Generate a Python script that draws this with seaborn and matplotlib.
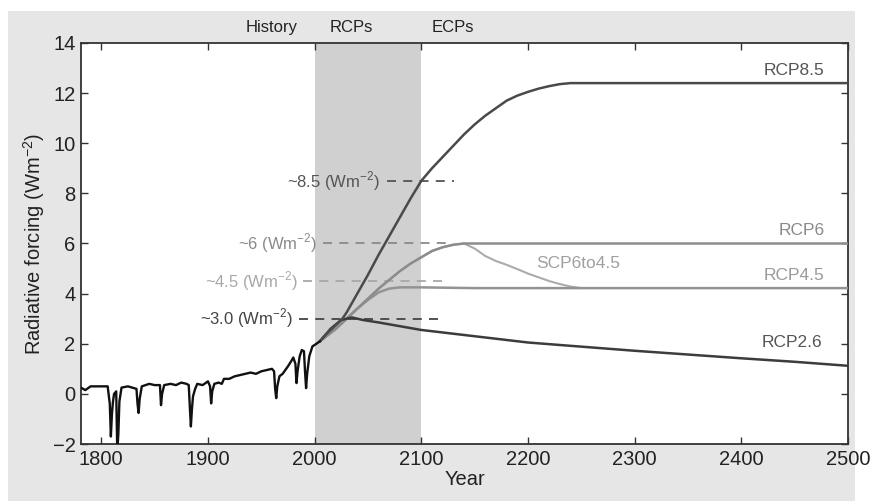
import matplotlib
matplotlib.use("Agg")
import matplotlib.pyplot as plt
from matplotlib.patches import Rectangle
import numpy as np
import pandas as pd
import seaborn as sns

# ---------------- data ----------------
hist_years = [1781, 1785, 1790, 1800, 1806, 1808, 1809, 1810, 1811, 1812, 1814, 1815, 1816,
              1817, 1819, 1825, 1833, 1834, 1835, 1836, 1838, 1845, 1850, 1855, 1856, 1857,
              1859, 1865, 1870, 1875, 1880, 1882, 1883, 1884, 1885, 1886, 1888, 1890, 1895,
              1900, 1902, 1903, 1904, 1906, 1910, 1913, 1915, 1920, 1925, 1930, 1935, 1940,
              1945, 1950, 1955, 1960, 1962, 1963, 1964, 1965, 1967, 1970, 1975, 1978, 1980,
              1982, 1983, 1984, 1986, 1988, 1990, 1991, 1992, 1993, 1995, 1998, 2000, 2005]
hist_vals = [0.25, 0.15, 0.3, 0.3, 0.3, -0.4, -1.7, -0.8, -0.3, 0.0, 0.1, -2.3, -1.6,
             -0.3, 0.25, 0.3, 0.2, -0.4, -0.76, -0.2, 0.3, 0.4, 0.35, 0.35, -0.45, 0.0,
             0.35, 0.4, 0.35, 0.45, 0.4, 0.35, -0.5, -1.3, -0.6, -0.1, 0.2, 0.4, 0.35,
             0.5, 0.3, -0.38, 0.1, 0.4, 0.45, 0.4, 0.6, 0.6, 0.7, 0.75, 0.8, 0.85,
             0.8, 0.9, 0.95, 1.0, 0.9, 0.2, -0.17, 0.3, 0.7, 0.8, 1.1, 1.3, 1.45,
             1.2, 0.43, 0.9, 1.5, 1.75, 1.7, 0.9, 0.23, 0.8, 1.5, 1.9, 1.95, 2.1]

rcp85_years = [2005, 2010, 2020, 2026, 2030, 2040, 2050, 2060, 2066, 2070, 2080, 2090, 2100,
               2110, 2120, 2130, 2140, 2150, 2160, 2170, 2180, 2190, 2200, 2210, 2220, 2230,
               2240, 2250, 2500]
rcp85_vals = [2.1, 2.35, 2.75, 3.0, 3.25, 4.0, 4.75, 5.55, 6.0, 6.3, 7.05, 7.8, 8.5,
              9.0, 9.45, 9.9, 10.35, 10.75, 11.1, 11.4, 11.7, 11.9, 12.05, 12.18, 12.28, 12.36,
              12.4, 12.4, 12.4]

rcp6_years = [2005, 2020, 2030, 2040, 2050, 2060, 2070, 2080, 2090, 2100, 2110, 2120, 2130,
              2140, 2150, 2500]
rcp6_vals = [2.1, 2.6, 3.0, 3.4, 3.8, 4.2, 4.55, 4.9, 5.2, 5.45, 5.7, 5.85, 5.95,
             6.0, 6.0, 6.0]

scp_years = [2005, 2020, 2030, 2040, 2050, 2060, 2070, 2080, 2090, 2100, 2110, 2120, 2130,
             2140, 2150, 2160, 2170, 2180, 2190, 2200, 2210, 2220, 2230, 2240, 2250]
scp_vals = [2.1, 2.6, 3.0, 3.4, 3.8, 4.2, 4.55, 4.9, 5.2, 5.45, 5.7, 5.85, 5.95,
            6.0, 5.8, 5.5, 5.3, 5.15, 4.98, 4.8, 4.65, 4.5, 4.38, 4.28, 4.22]

rcp45_years = [2005, 2020, 2030, 2040, 2050, 2060, 2070, 2080, 2100, 2150, 2500]
rcp45_vals = [2.1, 2.6, 3.0, 3.4, 3.75, 4.05, 4.2, 4.25, 4.25, 4.22, 4.22]

rcp26_years = [2005, 2015, 2025, 2035, 2045, 2060, 2080, 2100, 2150, 2200, 2230, 2300,
               2350, 2400, 2450, 2500]
rcp26_vals = [2.1, 2.6, 2.95, 3.05, 2.95, 2.85, 2.7, 2.55, 2.3, 2.05, 1.95, 1.72,
              1.57, 1.42, 1.28, 1.12]

series_names = ["History", "RCP8.5", "RCP6", "SCP6to4.5", "RCP4.5", "RCP2.6"]
level_values = [8.5, 6.0, 4.5, 3.0]
level_texts = ["~8.5 (Wm$^{-2}$)", "~6 (Wm$^{-2}$)", "~4.5 (Wm$^{-2}$)", "~3.0 (Wm$^{-2}$)"]
period_labels = ["History", "RCPs", "ECPs"]
x_ticks = [1800, 1900, 2000, 2100, 2200, 2300, 2400, 2500]
y_ticks = [-2, 0, 2, 4, 6, 8, 10, 12, 14]

# ---------------- build table ----------------
parts = []
for name, yrs, vals in zip(series_names,
                           [hist_years, rcp85_years, rcp6_years, scp_years, rcp45_years, rcp26_years],
                           [hist_vals, rcp85_vals, rcp6_vals, scp_vals, rcp45_vals, rcp26_vals]):
    parts.append(pd.DataFrame({"Year": yrs, "Forcing": vals, "series": name}))
df = pd.concat(parts, ignore_index=True)

# ---------------- styling ----------------
sns.set_theme(style="ticks")
plt.rcParams['font.family'] = ['Liberation Sans', 'DejaVu Sans']
plt.rcParams['mathtext.fontset'] = 'custom'
plt.rcParams['mathtext.rm'] = 'Liberation Sans'

line_colors = {"History": "#111111", "RCP8.5": "#4a4a4a", "RCP6": "#8c8c8c",
               "SCP6to4.5": "#ababab", "RCP4.5": "#939393", "RCP2.6": "#3c3c3c"}
line_widths = {"History": 1.7, "RCP8.5": 1.8, "RCP6": 1.8, "SCP6to4.5": 1.5,
               "RCP4.5": 1.8, "RCP2.6": 1.8}
draw_order = ["SCP6to4.5", "RCP4.5", "RCP6", "RCP2.6", "RCP8.5", "History"]

fig = plt.figure(figsize=(8.72, 5.01), dpi=100, facecolor="white")
fig.patches.append(Rectangle((8 / 872, 0), 847 / 872, 490 / 501, transform=fig.transFigure,
                             facecolor="#e6e6e6", edgecolor="none", zorder=-10))
ax = fig.add_axes([81 / 872, 57 / 501, 767 / 872, 401 / 501])
ax.set_zorder(5)
ax.set_facecolor("white")
ax.axvspan(2000, 2100, color="#d0d0d0", lw=0, zorder=0)

for name in draw_order:
    sub = df[df["series"] == name]
    sns.lineplot(data=sub, x="Year", y="Forcing", ax=ax, color=line_colors[name],
                 linewidth=line_widths[name], estimator=None, sort=False, legend=False, zorder=3)

# dashed level markers with their labels
level_colors = ["#555555", "#8a8a8a", "#a8a8a8", "#444444"]
text_right = [2061, 2002, 1984, 1980]
dash_start = [2068, 2008, 1989, 1985]
dash_end = [2131, 2125, 2120, 2120]
for v, t, c, tr, ds, de in zip(level_values, level_texts, level_colors, text_right, dash_start, dash_end):
    ax.plot([ds, de], [v, v], color=c, lw=1.3, ls=(0, (5, 4)), zorder=2)
    ax.text(tr, v, t, ha="right", va="center", fontsize=12, color=c, zorder=4)

# series labels on the right
lab_pos = {"RCP8.5": (2478, 12.92, "#555555"), "RCP6": (2478, 6.5, "#8a8a8a"),
           "RCP4.5": (2478, 4.74, "#9a9a9a"), "RCP2.6": (2476, 2.03, "#555555"),
           "SCP6to4.5": (2208, 5.22, "#a0a0a0")}
for name in ["RCP8.5", "RCP6", "RCP4.5", "RCP2.6"]:
    x, y, c = lab_pos[name]
    ax.text(x, y, name, ha="right", va="center", fontsize=12.5, color=c)
x, y, c = lab_pos["SCP6to4.5"]
ax.text(x, y, "SCP6to4.5", ha="left", va="center", fontsize=12.5, color=c)

# period labels above the axes
for lab, xc in zip(period_labels, [1960, 2034, 2130]):
    ax.text(xc, 14.62, lab, ha="center", va="center", fontsize=12, color="#222222", clip_on=False)

ax.set_xlim(1781, 2500)
ax.set_ylim(-2, 14)
ax.set_xticks(x_ticks)
ax.set_yticks(y_ticks)
ax.set_xticklabels([str(t) for t in x_ticks])
ax.set_yticklabels(["\u22122" if t < 0 else str(t) for t in y_ticks])
ax.tick_params(direction="in", top=True, right=True, length=5, width=1.0, color="#333333",
               labelsize=14.5, labelcolor="#222222", pad=4)
for s in ax.spines.values():
    s.set_linewidth(1.3)
    s.set_color("#333333")
ax.set_xlabel("Year", fontsize=14.5, color="#222222", labelpad=1)
ax.set_ylabel("Radiative forcing (Wm$^{-2}$)", fontsize=14.5, color="#222222", labelpad=4)

fig.savefig("out.png", dpi=100, facecolor=fig.get_facecolor())
